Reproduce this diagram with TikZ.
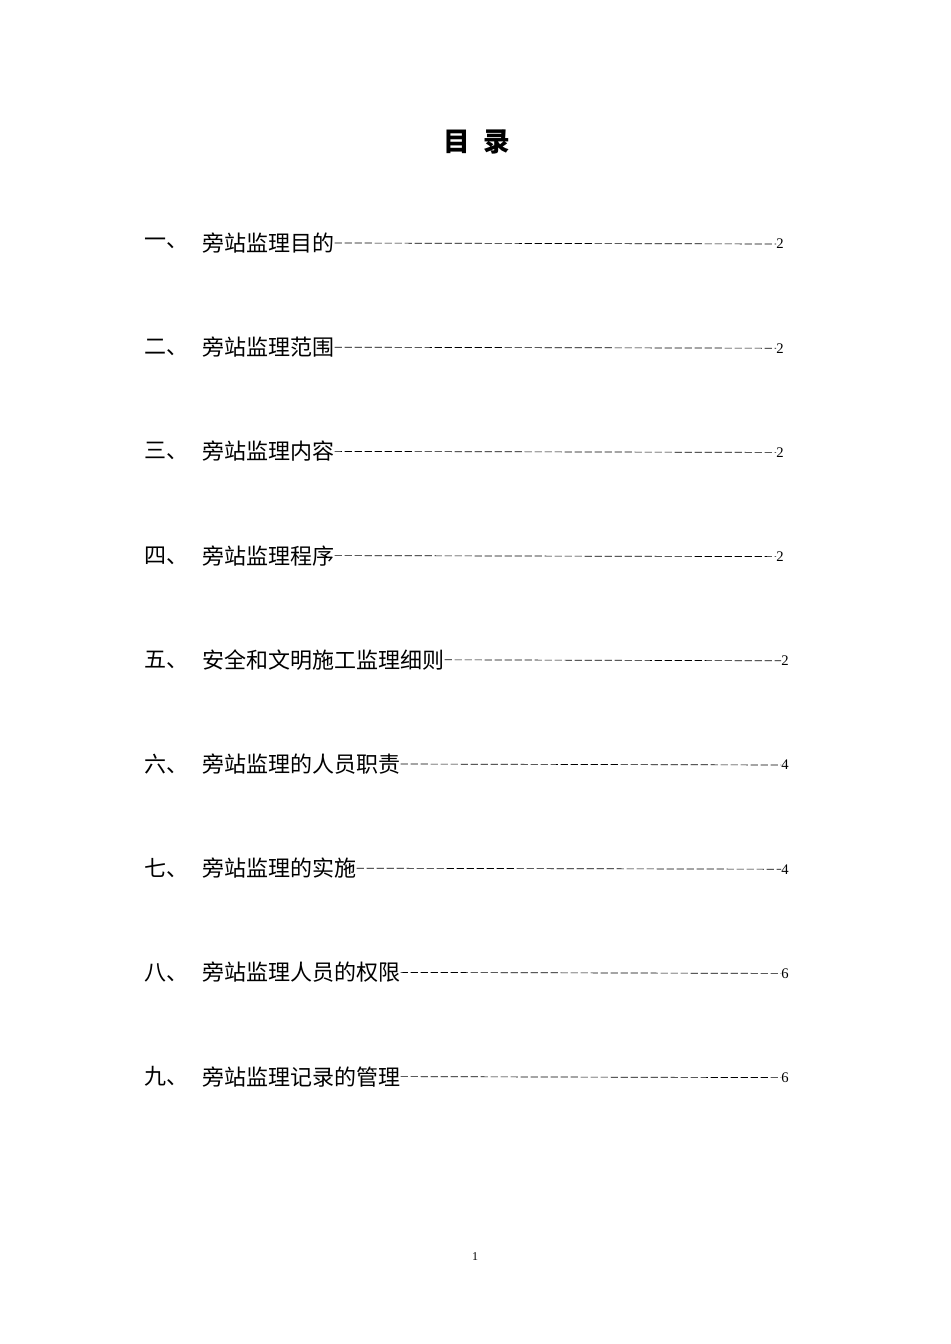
\documentclass[tikz,border=0pt]{standalone}
\usepackage{fontspec}
\newfontfamily\cjk{Noto Sans CJK SC}
\setmainfont{Liberation Serif}
\begin{document}
\begin{tikzpicture}[x=0.75pt,y=-0.75pt,
  item/.style={anchor=west,inner sep=0pt,font=\cjk\fontsize{16.5pt}{18pt}\selectfont},
  pnum/.style={anchor=west,inner sep=0pt,font=\fontsize{11pt}{12pt}\selectfont},
  leader/.style={line width=0.5pt,dash pattern=on 5.5pt off 2pt}]
\useasboundingbox (0,0) rectangle (950,1344);
\fill[white] (0,0) rectangle (950,1344);
\node[inner sep=0pt,font=\cjk\bfseries\fontsize{20pt}{22pt}\selectfont] (title) at (477,142) {目\hspace{0.5em}录};
\foreach \n/\lab/\txt/\pg/\px in {
 1/一、/旁站监理目的/2/776,
 2/二、/旁站监理范围/2/776,
 3/三、/旁站监理内容/2/776,
 4/四、/旁站监理程序/2/776,
 5/五、/安全和文明施工监理细则/2/781,
 6/六、/旁站监理的人员职责/4/781,
 7/七、/旁站监理的实施/4/781,
 8/八、/旁站监理人员的权限/6/781,
 9/九、/旁站监理记录的管理/6/781}{
  \pgfmathsetmacro\yy{243+104.2*(\n-1)}
  \node[item] (l\n) at (144,\yy) {\lab};
  \node[item] (t\n) at (202,\yy) {\txt};
  \node[pnum] (p\n) at (\px,\yy+1) {\pg};
  \draw[leader] (t\n.east) -- (p\n.west);
}
\node[inner sep=0pt,font=\fontsize{9pt}{10pt}\selectfont] (foot) at (475,1257) {1};
\end{tikzpicture}
\end{document}
